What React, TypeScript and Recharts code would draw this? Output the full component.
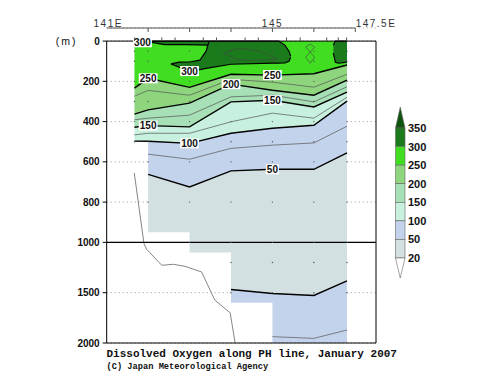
import React from 'react';
import {
  ComposedChart, Area, Line, Scatter, XAxis, YAxis, CartesianGrid,
  ReferenceLine, ReferenceDot, Legend,
} from 'recharts';

// ---------- data (depths in m, longitudes in deg E) ----------
const stationLon = [141.67, 142.0, 143.0, 144.0, 145.0, 146.0, 146.8];
// deepest observed level at each station (valid eastward up to the next station)
const stationBottom = [500, 950, 1100, 1600, 2000, 2000, 2000];

// contour (isoline) depths at each station, umol/kg levels
const iso250 = [234, 185, 230, 165, 169, 162, 119];
const iso225 = [274, 245, 269, 190, 204, 229, 165];
const iso200 = [363, 342, 308, 214, 244, 269, 194];
const iso175 = [391, 383, 368, 277, 269, 302, 227];
const iso150 = [428, 420, 426, 302, 294, 327, 254];
const iso125 = [466, 458, 458, 401, 358, 383, 279];
const iso100 = [497, 498, 508, 458, 433, 418, 298];
const iso075 = [null, 562, 587, 533, 517, 506, 423];
const iso050 = [null, 662, 725, 645, 637, 637, 556];
const iso050deep = [null, null, null, 1468, 1508, 1528, 1383];
const iso075deep = [null, null, null, null, 1937, 1954, 1871];

// 300-350 patches near the surface
const darkALon = [142.09, 142.4, 142.9, 143.47];
const darkATop = [0, 0, 0, 0];
const darkABottom = [6, 18, 18, 20];
const darkBLon = [142.55, 142.75, 143.0, 143.25, 143.4, 143.47, 144.0, 145.0, 145.15, 145.3, 145.4, 145.44];
const darkBTop = [113, 105, 104, 95, 50, 0, 0, 0, 0, 20, 50, 75];
const darkBBottom = [113, 130, 149, 142, 136, 133, 115, 110, 110, 108, 100, 80];
const darkCLon = [146.47, 146.52, 146.6, 146.8];
const darkCTop = [20, 0, 0, 0];
const darkCBottom = [60, 105, 110, 105];

// small closed contours
const loop325Lon = [143.81, 144.17, 144.7, 145.13, 144.6, 144.17, 143.81];
const loop325Depth = [60, 35, 50, 90, 95, 93, 60];
const loop275Lon = [145.91, 146.02, 145.91, 145.8, 145.91, 146.02, 145.91, 145.8, 145.91];
const loop275Depth = [15, 30, 55, 80, 110, 80, 55, 30, 15];

// sea floor
const bathyLon = [141.665, 141.9, 141.965, 142.33, 142.61, 142.89, 143.29, 143.61, 143.98, 144.1];
const bathyDepth = [655, 1013, 1069, 1228, 1218, 1238, 1294, 1574, 1700, 2000];

const dotDepths = [50, 100, 200, 300, 400, 500, 600, 800, 1000, 1200, 1500];

const levelTicks = [20, 50, 100, 150, 200, 250, 300, 350];
const levelColors = ['#ffffff', '#d2e0e2', '#c4d3ec', '#c8f0de', '#a7dfb6', '#8fd57e', '#40dd20', '#1b7a1b', '#0e540e'];

const yTickDepths = [0, 200, 400, 600, 800, 1000, 1500, 2000];
const topMajor = [142, 143, 144, 145, 146, 147];
const topMinor = [141.67, 142.33, 142.65, 143.33, 143.65, 144.34, 144.66, 145.34, 145.67, 146.31, 146.59, 146.79];
const topLabelLon = [141, 145, 147.5];
const topLabelText = ['141E', '145', '147.5E'];

const titleText = 'Dissolved Oxygen along PH line, January 2007';
const creditText = '(C) Japan Meteorological Agency';

// ---------- derived ----------
const ty = (d: number) => (d <= 1000 ? d : 1000 + (d - 1000) / 2);
const untY = (v: number) => (v <= 1000 ? v : 1000 + (v - 1000) * 2);

type Row = { lon: number; i: number; bottom: number };
const rows: Row[] = [];
stationLon.forEach((lon, i) => {
  if (i > 0 && stationBottom[i - 1] !== stationBottom[i]) rows.push({ lon, i, bottom: stationBottom[i - 1] });
  rows.push({ lon, i, bottom: stationBottom[i] });
});

type Arr = (number | null)[];
const bands: { upper: Arr | null; lower: Arr | null; color: string }[] = [
  { upper: null, lower: iso250, color: levelColors[6] },
  { upper: iso250, lower: iso200, color: levelColors[5] },
  { upper: iso200, lower: iso150, color: levelColors[4] },
  { upper: iso150, lower: iso100, color: levelColors[3] },
  { upper: iso100, lower: iso050, color: levelColors[2] },
  { upper: iso050, lower: iso050deep, color: levelColors[1] },
  { upper: iso050deep, lower: null, color: levelColors[2] },
];
const bandKey = (upper: Arr | null, lower: Arr | null) => (r: Row) => {
  const b = r.bottom;
  const a = upper === null ? 0 : (upper[r.i] ?? b);
  const c = lower === null ? b : (lower[r.i] ?? b);
  return [ty(Math.min(a, b)), ty(Math.min(c, b))];
};
const lineKey = (arr: Arr) => (r: Row) => {
  const v = arr[r.i];
  return v != null && v <= r.bottom ? ty(v) : null;
};
const contours: { arr: Arr; thick: boolean }[] = [
  { arr: iso225, thick: false }, { arr: iso175, thick: false }, { arr: iso125, thick: false },
  { arr: iso075, thick: false }, { arr: iso075deep, thick: false },
  { arr: iso250, thick: true }, { arr: iso200, thick: true }, { arr: iso150, thick: true },
  { arr: iso100, thick: true }, { arr: iso050, thick: true }, { arr: iso050deep, thick: true },
];
const patch = (lon: number[], top: number[], bot: number[]) =>
  lon.map((l, k) => ({ lon: l, range: [ty(top[k]), ty(bot[k])] }));
const darkPatches = [
  patch(darkALon, darkATop, darkABottom),
  patch(darkBLon, darkBTop, darkBBottom),
  patch(darkCLon, darkCTop, darkCBottom),
];
const path = (lon: number[], dep: number[]) => lon.map((l, k) => ({ lon: l, v: ty(dep[k]) }));
const loops = [path(loop325Lon, loop325Depth), path(loop275Lon, loop275Depth)];
const bathy = path(bathyLon, bathyDepth);
const dots: { lon: number; y: number }[] = [];
stationLon.forEach((lon, i) => dotDepths.forEach((d) => { if (d <= stationBottom[i]) dots.push({ lon, y: ty(d) }); }));

const contourLabels = [
  { text: '300', lon: darkALon[0], depth: darkABottom[0], anchor: 'end' },
  { text: '300', lon: stationLon[2], depth: darkBBottom[2], anchor: 'middle' },
  { text: '250', lon: stationLon[1], depth: iso250[1], anchor: 'middle' },
  { text: '250', lon: stationLon[4], depth: iso250[4], anchor: 'middle' },
  { text: '200', lon: stationLon[3], depth: iso200[3], anchor: 'middle' },
  { text: '150', lon: stationLon[1], depth: iso150[1], anchor: 'middle' },
  { text: '150', lon: stationLon[4], depth: iso150[4], anchor: 'middle' },
  { text: '100', lon: stationLon[2], depth: iso100[2], anchor: 'middle' },
  { text: '50', lon: stationLon[4], depth: iso050[4] as number, anchor: 'middle' },
];

const topTicks = Array.from(new Set([...topLabelLon, ...topMajor, ...topMinor])).sort((a, b) => a - b);
const yTicks = yTickDepths.map(ty);

const SANS = "'Liberation Sans', Arial, sans-serif";
const MONO = "'Liberation Mono', 'Courier New', monospace";

const TopTick = (props: any) => {
  const { x, y, payload } = props;
  const v = payload.value;
  const li = topLabelLon.indexOf(v);
  return (
    <g>
      {topMajor.includes(v) && <line x1={x} y1={y} x2={x} y2={y + 4} stroke="#555" strokeWidth={1} />}
      {topMinor.includes(v) && <line x1={x} y1={y + 13} x2={x} y2={y + 9.5} stroke="#555" strokeWidth={1} />}
      {li >= 0 && (
        <text x={x + (li === 0 ? 1.5 : 0)} y={y - 1.5} textAnchor="middle" fontSize={10} letterSpacing={1.5}
          fontFamily={SANS} fill="#333">{topLabelText[li]}</text>
      )}
    </g>
  );
};

const LeftTick = (props: any) => {
  const { x, y, payload } = props;
  const depth = untY(payload.value);
  return (
    <g>
      <text x={x} y={y} dy={3.5} textAnchor="end" fontSize={10} fontWeight="bold" fontFamily={SANS} fill="#111">{depth}</text>
      {depth === 0 && (
        <text x={x - 33} y={y} dy={3.5} textAnchor="middle" fontSize={10.5} letterSpacing={2}
          fontFamily={SANS} fill="#111">(m)</text>
      )}
    </g>
  );
};

const LabelBox = ({ cx, cy, text, anchor }: any) => {
  const w = text.length * 5.6 + 2;
  const left = anchor === 'end' ? cx - w : cx - w / 2;
  return (
    <g>
      <rect x={left} y={cy - 5} width={w} height={10} fill="#fff" />
      <text x={left + w / 2} y={cy} dy={3.6} textAnchor="middle" fontSize={10} fontWeight="bold" fontFamily={SANS} fill="#111">{text}</text>
    </g>
  );
};

const ColorBar = () => {
  const x0 = 7.5, w = 9.5, top = 28, step = 18.57;
  const n = levelTicks.length;
  const bottom = top + (n - 1) * step;
  return (
    <svg width={60} height={190} style={{ display: 'block' }}>
      <polygon points={`${x0},${top} ${x0 + w},${top} ${x0 + w / 2},${top - 21}`} fill={levelColors[8]} stroke="#666" strokeWidth={0.6} />
      {levelTicks.slice(0, n - 1).map((_, k) => (
        <rect key={k} x={x0} y={top + k * step} width={w} height={step} fill={levelColors[n - 1 - k]} stroke="#666" strokeWidth={0.6} />
      ))}
      <polygon points={`${x0},${bottom} ${x0 + w},${bottom} ${x0 + w / 2},${bottom + 20}`} fill={levelColors[0]} stroke="#666" strokeWidth={0.6} />
      {levelTicks.map((_, k) => (
        <text key={k} x={x0 + w + 3} y={top + k * step} dy={4} fontSize={11} fontWeight="bold" fontFamily={SANS} fill="#111">
          {levelTicks[n - 1 - k]}
        </text>
      ))}
    </svg>
  );
};

export default function App() {
  return (
    <div style={{ position: 'absolute', left: 0, top: 0, width: 500, height: 387, background: '#fff' }}>
      <ComposedChart width={500} height={387} data={rows} margin={{ top: 8, right: 124, bottom: 44, left: 46.7 }}>
        <CartesianGrid vertical={false} stroke="#999" strokeDasharray="1 3" />
        <XAxis dataKey="lon" type="number" domain={[141, 147.5]} orientation="top" height={20}
          ticks={topTicks} interval={0} tickSize={0} tickMargin={0} axisLine={false} tickLine={false}
          tick={<TopTick />} allowDataOverflow />
        <YAxis type="number" domain={[-65, 1500]} reversed ticks={yTicks} interval={0} width={60}
          axisLine={false} tickSize={4} tickMargin={3} tickLine={{ stroke: '#000' }} tick={<LeftTick />} allowDataOverflow />
        {bands.map((b, k) => (
          <Area key={`band${k}`} type="linear" dataKey={bandKey(b.upper, b.lower)} fill={b.color} fillOpacity={1}
            stroke="none" isAnimationActive={false} dot={false} activeDot={false} />
        ))}
        {darkPatches.map((d, k) => (
          <Area key={`dark${k}`} data={d} type="linear" dataKey="range" fill={levelColors[7]} fillOpacity={1}
            stroke="#000" strokeWidth={1.2} isAnimationActive={false} dot={false} activeDot={false} />
        ))}
        {contours.map((c, k) => (
          <Line key={`c${k}`} type="linear" dataKey={lineKey(c.arr)} stroke={c.thick ? '#000' : '#555'}
            strokeWidth={c.thick ? 1.4 : 0.7} dot={false} activeDot={false} isAnimationActive={false} connectNulls={false} />
        ))}
        {loops.map((l, k) => (
          <Line key={`loop${k}`} data={l} type="linear" dataKey="v" stroke="#444" strokeWidth={0.6}
            dot={false} activeDot={false} isAnimationActive={false} />
        ))}
        <Line data={bathy} type="linear" dataKey="v" stroke="#777" strokeWidth={0.9} dot={false} activeDot={false} isAnimationActive={false} />
        <Scatter data={dots} dataKey="y" isAnimationActive={false}
          shape={(p: any) => <circle cx={p.cx} cy={p.cy} r={0.7} fill="#555" />} />
        <ReferenceLine y={1000} stroke="#000" strokeWidth={1.2} />
        <ReferenceLine segment={[{ x: 141, y: 0 }, { x: 147.5, y: 0 }]} stroke="#000" />
        <ReferenceLine segment={[{ x: 141, y: 1500 }, { x: 147.5, y: 1500 }]} stroke="#000" />
        <ReferenceLine segment={[{ x: 141, y: 0 }, { x: 141, y: 1500 }]} stroke="#000" />
        <ReferenceLine segment={[{ x: 147.5, y: 0 }, { x: 147.5, y: 1500 }]} stroke="#000" />
        <ReferenceLine segment={[{ x: topLabelLon[0], y: -65 }, { x: topMajor[topMajor.length - 1], y: -65 }]} stroke="#555" />
        {contourLabels.map((l, k) => (
          <ReferenceDot key={`lab${k}`} x={l.lon} y={ty(l.depth as number)} r={0}
            shape={(p: any) => <LabelBox cx={p.cx} cy={p.cy} text={l.text} anchor={l.anchor} />} />
        ))}
        <Legend layout="vertical" align="center" verticalAlign="middle" content={<ColorBar />}
          wrapperStyle={{ position: 'absolute', left: 388, top: 100, width: 60, height: 190 }} />
      </ComposedChart>
      <svg width={500} height={387} style={{ position: 'absolute', left: 0, top: 0, pointerEvents: 'none' }}>
        <text x={106.5} y={356.5} fontSize={11} fontWeight="bold" fontFamily={MONO} fill="#111">{titleText}</text>
        <text x={106.5} y={368.5} fontSize={8.7} fontWeight="bold" fontFamily={MONO} fill="#111">{creditText}</text>
      </svg>
    </div>
  );
}
